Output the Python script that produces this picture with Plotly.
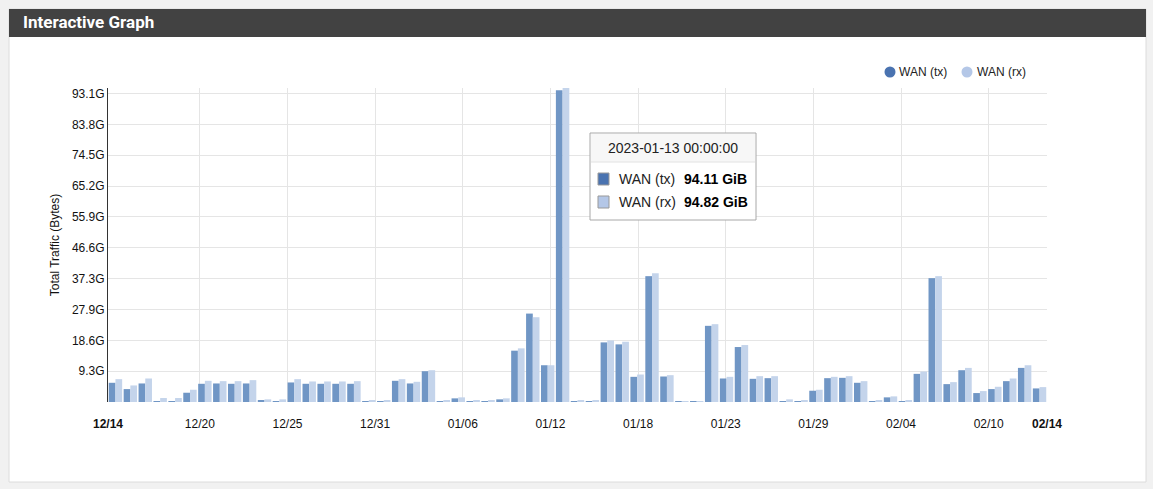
import math
from datetime import datetime, timedelta, timezone
import plotly.graph_objects as go

# ---------------- data ----------------
start_day = datetime(2022, 12, 14, tzinfo=timezone.utc)
days = [start_day + timedelta(days=i) for i in range(63)]
dates = [d.strftime("%Y-%m-%d") for d in days]

# daily traffic in GiB
wan_tx = [5.8, 3.9, 5.6, 0.2, 0.2, 2.8, 5.5, 5.6, 5.5, 5.6,
          0.5, 0.2, 5.9, 5.5, 5.5, 5.5, 5.5, 0.2, 0.2, 6.4,
          5.6, 9.3, 0.2, 1.1, 0.2, 0.2, 0.8, 15.5, 26.7, 11.1,
          94.11, 0.2, 0.2, 18.0, 17.4, 7.6, 38.0, 7.7, 0.1, 0.1,
          23.0, 7.1, 16.6, 7.0, 7.2, 0.3, 0.2, 3.4, 7.2, 7.3,
          5.8, 0.3, 1.4, 0.1, 8.5, 37.4, 5.4, 9.6, 2.7, 3.9,
          6.3, 10.3, 4.1]
wan_rx = [6.9, 5.0, 7.1, 1.2, 1.2, 3.7, 6.4, 6.3, 6.3, 6.6,
          0.8, 0.8, 6.9, 6.2, 6.2, 6.2, 6.3, 0.5, 0.5, 6.9,
          6.1, 9.6, 0.4, 1.4, 0.4, 0.4, 1.1, 16.2, 25.6, 11.1,
          94.82, 0.5, 0.5, 18.6, 18.2, 8.3, 38.9, 8.1, 0.2, 0.2,
          23.5, 7.6, 17.2, 7.8, 7.8, 0.8, 0.5, 3.7, 7.6, 7.8,
          6.3, 0.5, 1.7, 0.4, 9.2, 38.0, 6.0, 10.3, 3.3, 4.6,
          7.1, 11.1, 4.5]

series_names = ["WAN (tx)", "WAN (rx)"]
tooltip_index = dates.index("2023-01-13")

# y ticks every 10^10 bytes, expressed in GiB
y_tick_vals = [k * 1e10 / 2**30 for k in range(1, 11)]
y_tick_text = [f"{v:.1f}G" for v in y_tick_vals]

# ---------------- layout helpers ----------------
W, H = 1153, 489
PL, PR, PT, PB = 108, 1047, 88, 402
PW, PH = PR - PL, PB - PT


def fx(x):
    return (x - PL) / PW


def fy(y):
    return (PB - y) / PH


FONT = "Liberation Sans, Arial, sans-serif"
TX_BAR, RX_BAR = "#7096c5", "#c4d4eb"
TX_KEY, RX_KEY = "#4a73b0", "#b4c7e7"

n = len(dates)
xpos = [i + 0.5 for i in range(n)]

# x ticks: linear time scale, ticks every 5e8 ms, min/max shown bold
t0 = days[0].timestamp() * 1000
t1 = days[-1].timestamp() * 1000
step = 5e8
x_tick_vals, x_tick_text = [], []
k = math.ceil(t0 / step)
while k * step <= t1:
    ms = k * step
    if ms - t0 > 86400000 and t1 - ms > 86400000:
        x_tick_vals.append((ms - t0) / (t1 - t0) * n)
        x_tick_text.append(datetime.fromtimestamp(ms / 1000, tz=timezone.utc).strftime("%m/%d"))
    k += 1
edge_vals = [0, n]
edge_text = [f"<b>{days[0].strftime('%m/%d')}</b>", f"<b>{days[-1].strftime('%m/%d')}</b>"]

fig = go.Figure()
fig.add_trace(go.Bar(x=xpos, y=wan_tx, name=series_names[0], marker_color=TX_BAR,
                     marker_line_width=0, showlegend=False))
fig.add_trace(go.Bar(x=xpos, y=wan_rx, name=series_names[1], marker_color=RX_BAR,
                     marker_line_width=0, showlegend=False))
# invisible trace for edge-label axis
fig.add_trace(go.Scatter(x=[0, n], y=[None, None], xaxis="x2", mode="markers",
                         showlegend=False, hoverinfo="skip"))

shapes = [
    # white panel
    dict(type="rect", xref="paper", yref="paper", x0=fx(9), x1=fx(1146), y0=fy(482), y1=fy(9),
         fillcolor="white", line=dict(color="#dcdcdc", width=1), layer="below"),
    # header bar
    dict(type="rect", xref="paper", yref="paper", x0=fx(9), x1=fx(1146), y0=fy(37), y1=fy(9),
         fillcolor="#424242", line=dict(width=0), layer="below"),
    # legend keys
    dict(type="circle", xref="paper", yref="paper", x0=fx(884.5), x1=fx(895.5), y0=fy(77.5), y1=fy(66.5),
         fillcolor=TX_KEY, line=dict(width=0), layer="above"),
    dict(type="circle", xref="paper", yref="paper", x0=fx(961.5), x1=fx(972.5), y0=fy(77.5), y1=fy(66.5),
         fillcolor=RX_KEY, line=dict(width=0), layer="above"),
    # tooltip box
    dict(type="rect", xref="paper", yref="paper", x0=fx(590), x1=fx(756), y0=fy(220), y1=fy(133),
         fillcolor="rgba(255,255,255,0.97)", line=dict(color="#a8a8a8", width=1), layer="above"),
    dict(type="rect", xref="paper", yref="paper", x0=fx(591), x1=fx(755), y0=fy(162), y1=fy(134),
         fillcolor="#f7f7f7", line=dict(width=0), layer="above"),
    dict(type="line", xref="paper", yref="paper", x0=fx(591), x1=fx(755), y0=fy(162), y1=fy(162),
         line=dict(color="#e2e2e2", width=1), layer="above"),
    dict(type="rect", xref="paper", yref="paper", x0=fx(598), x1=fx(609), y0=fy(185), y1=fy(173),
         fillcolor=TX_KEY, line=dict(color="#999", width=1), layer="above"),
    dict(type="rect", xref="paper", yref="paper", x0=fx(598), x1=fx(609), y0=fy(208), y1=fy(196),
         fillcolor=RX_KEY, line=dict(color="#999", width=1), layer="above"),
]

annotations = [
    dict(text="<b>Interactive Graph</b>", xref="paper", yref="paper", x=fx(21), y=fy(22),
         xanchor="left", yanchor="middle", showarrow=False,
         font=dict(family="Roboto, sans-serif", size=17, color="white")),
    # legend labels
    dict(text=series_names[0], xref="paper", yref="paper", x=fx(897), y=fy(72),
         xanchor="left", yanchor="middle", showarrow=False, font=dict(family=FONT, size=12, color="#222")),
    dict(text=series_names[1], xref="paper", yref="paper", x=fx(975), y=fy(72),
         xanchor="left", yanchor="middle", showarrow=False, font=dict(family=FONT, size=12, color="#222")),
    # tooltip
    dict(text=f"{dates[tooltip_index]} 00:00:00", xref="paper", yref="paper", x=fx(673), y=fy(148),
         xanchor="center", yanchor="middle", showarrow=False, font=dict(family=FONT, size=14, color="#222")),
    dict(text=series_names[0], xref="paper", yref="paper", x=fx(617), y=fy(179),
         xanchor="left", yanchor="middle", showarrow=False, font=dict(family=FONT, size=14, color="#222")),
    dict(text=f"<b>{wan_tx[tooltip_index]:.2f} GiB</b>", xref="paper", yref="paper", x=fx(682), y=fy(179),
         xanchor="left", yanchor="middle", showarrow=False, font=dict(family=FONT, size=14, color="#000")),
    dict(text=series_names[1], xref="paper", yref="paper", x=fx(617), y=fy(202),
         xanchor="left", yanchor="middle", showarrow=False, font=dict(family=FONT, size=14, color="#222")),
    dict(text=f"<b>{wan_rx[tooltip_index]:.2f} GiB</b>", xref="paper", yref="paper", x=fx(682), y=fy(202),
         xanchor="left", yanchor="middle", showarrow=False, font=dict(family=FONT, size=14, color="#000")),
]

fig.update_layout(
    width=W, height=H,
    margin=dict(l=PL, r=W - PR, t=PT, b=H - PB, pad=0),
    paper_bgcolor="#f1f1f1",
    plot_bgcolor="rgba(0,0,0,0)",
    barmode="group", bargap=0.1, bargroupgap=0,
    font=dict(family=FONT, size=12, color="#222"),
    showlegend=False,
    xaxis=dict(range=[0, n], tickmode="array", tickvals=x_tick_vals, ticktext=x_tick_text,
               showgrid=True, gridcolor="#e5e5e5", gridwidth=1, zeroline=False, showline=False,
               ticks="", ticklabelstandoff=13, tickfont=dict(size=12, color="#111")),
    xaxis2=dict(overlaying="x", matches="x", anchor="y", side="bottom", tickmode="array",
                tickvals=edge_vals, ticktext=edge_text, showgrid=False, zeroline=False,
                showline=False, ticks="", ticklabelstandoff=13, tickfont=dict(size=12, color="#111")),
    yaxis=dict(range=[0, max(max(wan_tx), max(wan_rx))], tickmode="array", tickvals=y_tick_vals,
               ticktext=y_tick_text, showgrid=True, gridcolor="#e5e5e5", gridwidth=1,
               zeroline=False, showline=True, linecolor="#333", linewidth=1, ticks="",
               ticklabelstandoff=0, tickfont=dict(size=12, color="#111"),
               title=dict(text="Total Traffic (Bytes)", standoff=9, font=dict(size=12, color="#111"))),
    shapes=shapes,
    annotations=annotations,
    hovermode=False,
)

fig.write_html("out.html", config={"displayModeBar": False},
               post_script="document.body.style.margin='0';")
